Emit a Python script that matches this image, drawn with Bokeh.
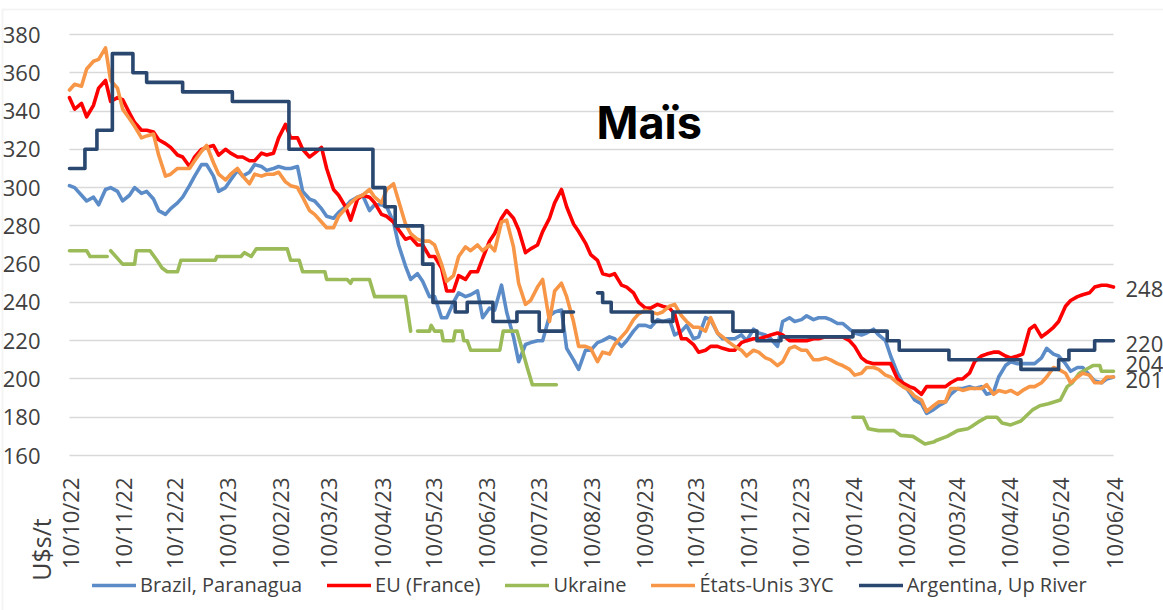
import math
import pandas as pd
from bokeh.plotting import figure
from bokeh.models import (Range1d, FixedTicker, DatetimeTickFormatter, Legend,
                          LegendItem, Label, SingleIntervalTicker, BoxAnnotation)
from bokeh.embed import file_html
from bokeh.resources import INLINE

# ---------------- data ----------------
# quotes read twice a week (Monday / Thursday)
dates = [
    "2022-10-10", "2022-10-13", "2022-10-17", "2022-10-20", "2022-10-24", "2022-10-27", "2022-10-31",
    "2022-11-03", "2022-11-07", "2022-11-10", "2022-11-14", "2022-11-17", "2022-11-21", "2022-11-24", "2022-11-28",
    "2022-12-01", "2022-12-05", "2022-12-08", "2022-12-12", "2022-12-15", "2022-12-19", "2022-12-22", "2022-12-26", "2022-12-29",
    "2023-01-02", "2023-01-05", "2023-01-09", "2023-01-12", "2023-01-16", "2023-01-19", "2023-01-23", "2023-01-26", "2023-01-30",
    "2023-02-02", "2023-02-06", "2023-02-09", "2023-02-13", "2023-02-16", "2023-02-20", "2023-02-23", "2023-02-27",
    "2023-03-02", "2023-03-06", "2023-03-09", "2023-03-13", "2023-03-16", "2023-03-20", "2023-03-23", "2023-03-27", "2023-03-30",
    "2023-04-03", "2023-04-06", "2023-04-10", "2023-04-13", "2023-04-17", "2023-04-20", "2023-04-24", "2023-04-27",
    "2023-05-01", "2023-05-04", "2023-05-08", "2023-05-11", "2023-05-15", "2023-05-18", "2023-05-22", "2023-05-25", "2023-05-29",
    "2023-06-01", "2023-06-05", "2023-06-08", "2023-06-12", "2023-06-15", "2023-06-19", "2023-06-22", "2023-06-26", "2023-06-29",
    "2023-07-03", "2023-07-06", "2023-07-10", "2023-07-13", "2023-07-17", "2023-07-20", "2023-07-24", "2023-07-27", "2023-07-31",
    "2023-08-03", "2023-08-07", "2023-08-10", "2023-08-14", "2023-08-17", "2023-08-21", "2023-08-24", "2023-08-28", "2023-08-31",
    "2023-09-04", "2023-09-07", "2023-09-11", "2023-09-14", "2023-09-18", "2023-09-21", "2023-09-25", "2023-09-28",
    "2023-10-02", "2023-10-05", "2023-10-09", "2023-10-12", "2023-10-16", "2023-10-19", "2023-10-23", "2023-10-26", "2023-10-30",
    "2023-11-02", "2023-11-06", "2023-11-09", "2023-11-13", "2023-11-16", "2023-11-20", "2023-11-23", "2023-11-27", "2023-11-30",
    "2023-12-04", "2023-12-07", "2023-12-11", "2023-12-14", "2023-12-18", "2023-12-21", "2023-12-25", "2023-12-28",
    "2024-01-01", "2024-01-04", "2024-01-08", "2024-01-11", "2024-01-15", "2024-01-18", "2024-01-22", "2024-01-25", "2024-01-29",
    "2024-02-01", "2024-02-05", "2024-02-08", "2024-02-12", "2024-02-15", "2024-02-19", "2024-02-22", "2024-02-26", "2024-02-29",
    "2024-03-04", "2024-03-07", "2024-03-11", "2024-03-14", "2024-03-18", "2024-03-21", "2024-03-25", "2024-03-28",
    "2024-04-01", "2024-04-04", "2024-04-08", "2024-04-11", "2024-04-15", "2024-04-18", "2024-04-22", "2024-04-25", "2024-04-29",
    "2024-05-02", "2024-05-06", "2024-05-09", "2024-05-13", "2024-05-16", "2024-05-20", "2024-05-23", "2024-05-27", "2024-05-30",
    "2024-06-03", "2024-06-06", "2024-06-10",
]

brazil = [
    301, 300, 296, 293, 295, 291, 299, 300, 298, 293, 296, 300, 297, 298, 294, 288,
    286, 289, 292, 295, 301, 306, 312, 312, 306, 298, 300, 304, 309, 306, 308, 312,
    311, 309, 310, 311, 310, 310, 311, 298, 294, 293, 289, 285, 284, 287, 290, 293,
    295, 296, 288, 291, 291, 290, 282, 270, 259, 252, 255, 251, 243, 243, 232, 232,
    240, 245, 243, 244, 246, 232, 237, 236, 249, 235, 222, 209, 218, 219, 220, 220,
    233, 235, 236, 216, 210, 205, 215, 215, 219, 220, 222, 221, 217, 220, 225, 228,
    228, 227, 231, 230, 231, 223, 225, 228, 221, 222, 232, 231, 224, 221, 221, 221,
    223, 220, 226, 224, 223, 221, 217, 230, 232, 230, 231, 233, 231, 232, 232, 231,
    229, 229, 226, 224, 223, 224, 226, 223, 220, 212, 203, 198, 193, 189, 187, 182,
    184, 186, 188, 192, 195, 195, 196, 195, 196, 192, 193, 201, 207, 209, 208, 208,
    208, 208, 211, 216, 213, 212, 208, 204, 206, 206, 202, 199, 198, 200, 201,
]

eu = [
    347, 341, 344, 337, 343, 352, 356, 345, 347, 346, 339, 334, 330, 330, 329, 325,
    323, 321, 317, 316, 311, 316, 320, 321, 322, 317, 320, 318, 316, 316, 314, 314,
    318, 317, 318, 326, 333, 326, 326, 320, 316, 318, 321, 310, 299, 296, 290, 283,
    294, 296, 295, 292, 286, 285, 282, 278, 273, 274, 270, 270, 264, 264, 258, 246,
    246, 254, 252, 256, 256, 263, 272, 276, 284, 288, 284, 278, 266, 268, 270, 277,
    284, 292, 299, 290, 281, 277, 271, 265, 262, 255, 254, 255, 249, 248, 245, 240,
    237, 237, 239, 238, 237, 234, 221, 221, 218, 214, 215, 217, 217, 216, 215, 215,
    219, 220, 221, 221, 222, 223, 224, 223, 220, 220, 220, 220, 221, 221, 222, 222,
    222, 222, 220, 217, 211, 209, 208, 208, 208, 208, 200, 198, 196, 195, 192, 196,
    196, 196, 196, 198, 200, 200, 203, 209, 212, 213, 214, 214, 212, 211, 212, 213,
    226, 228, 222, 224, 227, 230, 238, 241, 243, 244, 245, 248, 249, 249, 248,
]

us = [
    351, 354, 353, 362, 366, 367, 373, 356, 352, 341, 336, 332, 326, 327, 328, 317,
    306, 307, 310, 310, 310, 314, 319, 322, 313, 307, 304, 307, 310, 306, 302, 307,
    306, 307, 307, 308, 303, 301, 300, 295, 288, 286, 282, 279, 279, 285, 289, 292,
    295, 296, 299, 295, 292, 299, 302, 293, 281, 276, 273, 272, 272, 270, 260, 251,
    254, 264, 269, 267, 270, 267, 270, 267, 282, 283, 269, 250, 239, 241, 248, 252,
    230, 246, 250, 243, 230, 217, 217, 216, 209, 214, 213, 218, 222, 225, 231, 234,
    236, 235, 234, 235, 238, 239, 233, 230, 227, 227, 225, 232, 224, 222, 219, 217,
    215, 212, 215, 214, 211, 210, 207, 209, 216, 217, 215, 215, 210, 210, 211, 210,
    208, 207, 205, 202, 203, 206, 206, 205, 202, 201, 198, 196, 194, 191, 189, 183,
    186, 188, 188, 195, 195, 194, 195, 195, 195, 197, 192, 194, 193, 194, 192, 194,
    196, 196, 198, 201, 206, 205, 203, 198, 201, 203, 202, 198, 198, 201, 201,
]

# Argentina: price changes (step series), None = no quote
arg_dates = [
    "2022-10-10", "2022-10-19", "2022-10-26", "2022-11-04", "2022-11-16", "2022-11-24",
    "2022-12-15", "2023-01-13", "2023-02-15", "2023-04-05", "2023-04-12", "2023-04-18",
    "2023-05-04", "2023-05-10", "2023-05-23", "2023-05-30", "2023-06-14", "2023-06-28",
    "2023-07-11", "2023-07-25", "2023-07-31", "2023-08-05", "2023-08-14", "2023-08-17",
    "2023-08-22", "2023-09-15", "2023-09-27", "2023-11-01", "2023-11-15", "2023-11-29",
    "2024-01-10", "2024-01-30", "2024-02-06", "2024-03-06", "2024-04-17", "2024-05-09",
    "2024-05-15", "2024-05-30", "2024-06-10",
]
arg_values = [
    310, 320, 330, 370, 360, 355,
    350, 345, 320, 300, 290, 280,
    260, 240, 235, 240, 230, 235,
    225, 235, 235, None, 245, 240,
    235, 230, 235, 225, 220, 222,
    225, 220, 215, 210, 205, 210,
    215, 220, 220,
]

ukr_dates = [
    "2022-10-10", "2022-10-20", "2022-10-22", "2022-11-01", "2022-11-02", "2022-11-03",
    "2022-11-10", "2022-11-17", "2022-11-18", "2022-11-26", "2022-11-30", "2022-12-03",
    "2022-12-06", "2022-12-12", "2022-12-14", "2023-01-03", "2023-01-04", "2023-01-18",
    "2023-01-20", "2023-01-24", "2023-01-27", "2023-02-14", "2023-02-16", "2023-02-21",
    "2023-02-23", "2023-03-08", "2023-03-09", "2023-03-21", "2023-03-23", "2023-03-24",
    "2023-04-03", "2023-04-06", "2023-04-24", "2023-04-27", "2023-04-29", "2023-05-01",
    "2023-05-08", "2023-05-09", "2023-05-11", "2023-05-15", "2023-05-16", "2023-05-22",
    "2023-05-23", "2023-05-27", "2023-05-28", "2023-05-30", "2023-06-01", "2023-06-18",
    "2023-06-20", "2023-06-28", "2023-07-04", "2023-07-07", "2023-07-21", "2023-10-01",
    "2024-01-10", "2024-01-16", "2024-01-19", "2024-01-25", "2024-02-03", "2024-02-07",
    "2024-02-14", "2024-02-21", "2024-02-26", "2024-02-28", "2024-03-05", "2024-03-11",
    "2024-03-17", "2024-03-19", "2024-03-24", "2024-03-28", "2024-04-03", "2024-04-06",
    "2024-04-11", "2024-04-17", "2024-04-24", "2024-04-28", "2024-05-03", "2024-05-10",
    "2024-05-14", "2024-05-17", "2024-05-21", "2024-05-27", "2024-05-29", "2024-06-02",
    "2024-06-03", "2024-06-10",
]
ukr_values = [
    267, 267, 264, 264, None, 267,
    260, 260, 267, 267, 262, 258,
    256, 256, 262, 262, 264, 264,
    266, 264, 268, 268, 262, 262,
    256, 256, 252, 252, 250, 252,
    252, 243, 243, 225, None, 225,
    225, 228, 225, 225, 220, 220,
    225, 225, 220, 220, 215, 215,
    225, 225, 206, 197, 197, None,
    180, 180, 174, 173, 173, 170.5,
    170, 166, 167, 168, 170, 173,
    174, 175, 178, 180, 180, 177,
    176, 178, 184, 186, 187, 189,
    196, 198, 203, 206, 207, 207,
    204, 204,
]

tick_dates = [
    "2022-10-10", "2022-11-10", "2022-12-10", "2023-01-10", "2023-02-10", "2023-03-10",
    "2023-04-10", "2023-05-10", "2023-06-10", "2023-07-10", "2023-08-10", "2023-09-10",
    "2023-10-10", "2023-11-10", "2023-12-10", "2024-01-10", "2024-02-10", "2024-03-10",
    "2024-04-10", "2024-05-10", "2024-06-10",
]
y_min, y_max, y_step = 160, 380, 20

series_names = ["Brazil, Paranagua", "EU (France)", "Ukraine", "États-Unis 3YC",
                "Argentina, Up River"]
end_labels = ["248", "220", "204", "201"]
title_text = "Maïs"
unit_text = "U$s/t"

# ---------------- layout (pixels) ----------------
W, H = 1163, 610
PL, PR, PT, PB = 69, 1113, 34, 455            # data area inside the canvas
END_LABEL_PIX_Y = [288.5, 343.5, 363, 379.5]  # label centres (collision-avoided)

def ms(d):
    return pd.Timestamp(d).timestamp() * 1000.0

ms0, ms1 = ms(tick_dates[0]), ms(tick_dates[-1])
kx = (ms1 - ms0) / (PR - PL)
ky = (y_max - y_min) / (PB - PT)

def px2x(px):
    return ms0 + (px - PL) * kx

def py2y(py):
    return y_max - (py - PT) * ky

def nanify(vals):
    return [float("nan") if v is None else v for v in vals]

def step_after(dts, vals):
    xs, ys = [], []
    for i, (d, v) in enumerate(zip(dts, vals)):
        t = pd.Timestamp(d)
        if v is None:
            xs.append(t); ys.append(float("nan")); continue
        if i > 0 and vals[i - 1] is not None:
            xs.append(t); ys.append(vals[i - 1])
        xs.append(t); ys.append(v)
    return xs, ys

dt = pd.to_datetime(dates)

# ---------------- figure ----------------
FONT = "Open Sans"
GREY = "#404040"

p = figure(width=W, height=H, output_backend="svg", toolbar_location=None,
           x_axis_type="datetime",
           x_range=Range1d(px2x(0), px2x(W)),
           y_range=Range1d(py2y(H), py2y(0)),
           min_border=0)
p.outline_line_color = None
p.background_fill_color = "white"
p.border_fill_color = "white"

# chart-area border (light grey, top and left visible)
p.add_layout(BoxAnnotation(left=px2x(2), right=px2x(W + 40), top=py2y(9),
                           bottom=py2y(H + 40), fill_alpha=0,
                           line_color="#D9D9D9", line_width=2))

# y axis
p.yaxis.fixed_location = ms0
p.yaxis.bounds = (y_min, y_max)
p.yaxis.ticker = SingleIntervalTicker(interval=y_step)
p.yaxis.axis_line_color = None
p.yaxis.major_tick_line_color = None
p.yaxis.minor_tick_line_color = None
p.yaxis.major_label_standoff = 23
p.yaxis.major_label_text_font = FONT
p.yaxis.major_label_text_font_size = "22px"
p.yaxis.major_label_text_color = GREY

# x axis
p.xaxis.fixed_location = y_min
p.xaxis.bounds = (ms0, ms1)
p.xaxis.ticker = FixedTicker(ticks=[ms(d) for d in tick_dates])
fmt = "%d/%m/%y"
p.xaxis.formatter = DatetimeTickFormatter(days=fmt, months=fmt, years=fmt,
                                          hours=fmt, minutes=fmt)
p.xaxis.major_label_orientation = math.pi / 2
p.xaxis.axis_line_color = None
p.xaxis.major_tick_line_color = None
p.xaxis.minor_tick_line_color = None
p.xaxis.major_label_standoff = 16
p.xaxis.major_label_text_font = FONT
p.xaxis.major_label_text_font_size = "22px"
p.xaxis.major_label_text_color = GREY

# grid
p.xgrid.visible = False
p.ygrid.bounds = (y_min, y_max)
p.ygrid.grid_line_color = "#D9D9D9"
p.ygrid.grid_line_width = 1.5
try:
    p.ygrid.cross_bounds = (ms0, ms1)
except Exception:
    p.ygrid.visible = False
    gy = list(range(y_min, y_max + 1, y_step))
    p.segment(x0=[ms0] * len(gy), x1=[ms1] * len(gy), y0=gy, y1=gy,
              line_color="#D9D9D9", line_width=1.5)

# series
common = dict(line_width=3.6, line_join="round", line_cap="round")
r_br = p.line(dt, brazil, line_color="#5B8CC8", **common)
r_eu = p.line(dt, eu, line_color="#FF0000", **common)
r_uk = p.line(pd.to_datetime(ukr_dates), nanify(ukr_values), line_color="#9BBB59", **common)
r_us = p.line(dt, us, line_color="#F79646", **common)
ax, ay = step_after(arg_dates, arg_values)
r_ar = p.line(ax, ay, line_color="#2A4770", **common)

# end-of-series labels
for t, py in zip(end_labels, END_LABEL_PIX_Y):
    p.add_layout(Label(x=ms1, y=py2y(py), text=t, x_offset=12,
                       text_font=FONT, text_font_size="22px", text_color=GREY,
                       text_baseline="middle", text_align="left"))

# title
p.add_layout(Label(x=px2x(596), y=py2y(121.5), text=title_text,
                   text_font="Inter", text_font_style="bold", text_font_size="45px",
                   text_color="black", text_baseline="middle", text_align="left"))

# unit label
p.add_layout(Label(x=px2x(40), y=py2y(549), text=unit_text, angle=math.pi / 2,
                   text_font=FONT, text_font_size="25px", text_color=GREY,
                   text_align="center", text_baseline="middle"))

legend = Legend(items=[LegendItem(label=n, renderers=[r]) for n, r in
                       zip(series_names, [r_br, r_eu, r_uk, r_us, r_ar])],
                orientation="horizontal", location=(92, 12),
                label_text_font=FONT, label_text_font_size="20px",
                label_text_color=GREY, glyph_width=44, glyph_height=20,
                label_standoff=4, spacing=25, padding=0, margin=0,
                border_line_color=None, background_fill_alpha=0)
p.add_layout(legend, "center")

open("out.html", "w").write(file_html(p, INLINE))
